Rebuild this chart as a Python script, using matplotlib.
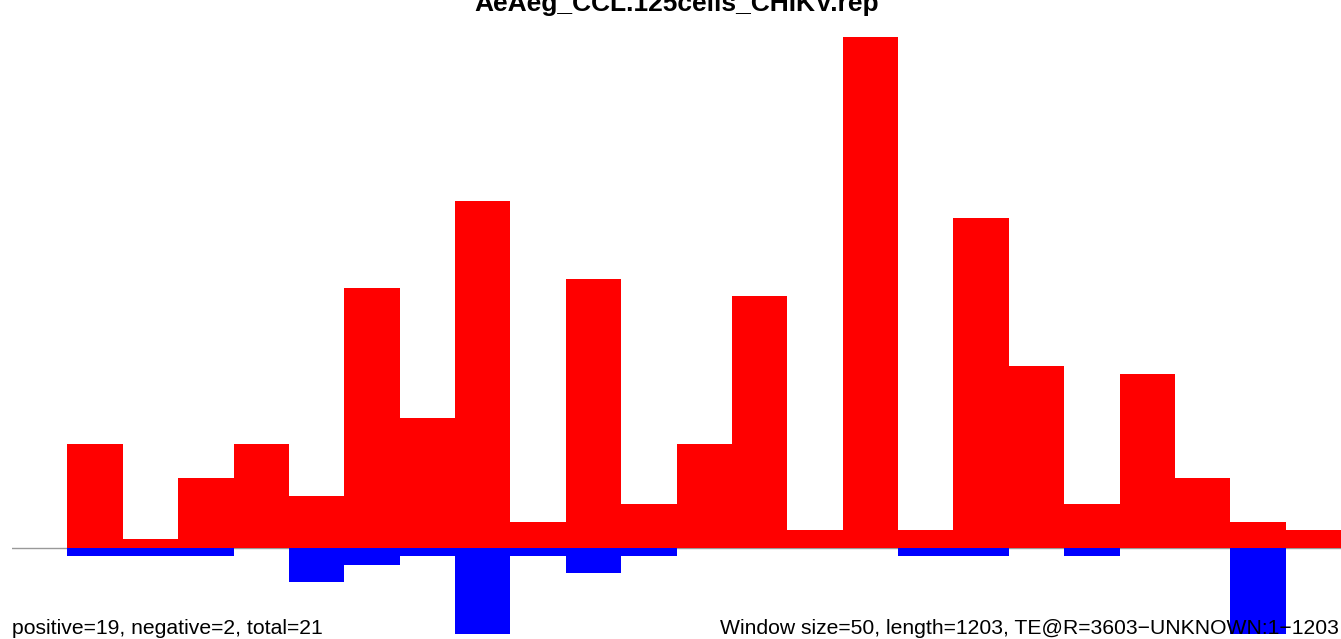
"""
Positive / negative window counts along a TE sequence.
"""

import matplotlib

matplotlib.use("Agg")
import matplotlib.pyplot as plt
import numpy as np

plt.rcParams["font.family"] = ["Liberation Sans", "DejaVu Sans"]

title = "AeAeg_CCL.125cells_CHIKV.rep"
left_note = "positive=19, negative=2, total=21"
right_note = "Window size=50, length=1203, TE@R=3603\u2212UNKNOWN:1\u22121203"

window_size = 50
# counts per window (window 0 is empty)
positive = [0, 12, 1, 8, 12, 6, 30, 15, 40, 3, 31, 5,
            12, 29, 2, 59, 2, 38, 21, 5, 20, 8, 3, 2]
negative = [0, -1, -1, -1, 0, -4, -2, -1, -10, -1, -3, -1,
            0, 0, 0, 0, -1, -1, 0, -1, 0, 0, -10, 0]

starts = np.arange(len(positive)) * window_size

W, H = 1341, 639
fig = plt.figure(figsize=(W / 100, H / 100), dpi=100)
ax = fig.add_axes([12 / W, 0, (W - 12) / W, 1])

ax.axhline(0, color="#999999", lw=1.0, zorder=1)
ax.bar(starts, positive, width=window_size, align="edge",
       color="#ff0000", linewidth=0, zorder=2)
ax.bar(starts, negative, width=window_size, align="edge",
       color="#0000ff", linewidth=0, zorder=2)

ax.set_xlim(0, len(positive) * window_size)
ax.set_ylim(-(H - 547.5) / 8.66, 547.5 / 8.66)
ax.axis("off")

# title sits partly above the top edge, as in the source image
fig.text(0.5 + 6 / W, 1 - 10.7 / H, title, ha="center", va="baseline",
         fontsize=19, fontweight="bold", zorder=5)
fig.text(12 / W, 1 - 634 / H, left_note, ha="left", va="baseline",
         fontsize=15.2, zorder=5)
fig.text(1339 / W, 1 - 634 / H, right_note, ha="right", va="baseline",
         fontsize=15.2, zorder=5)

fig.savefig("out.png", dpi=100)
